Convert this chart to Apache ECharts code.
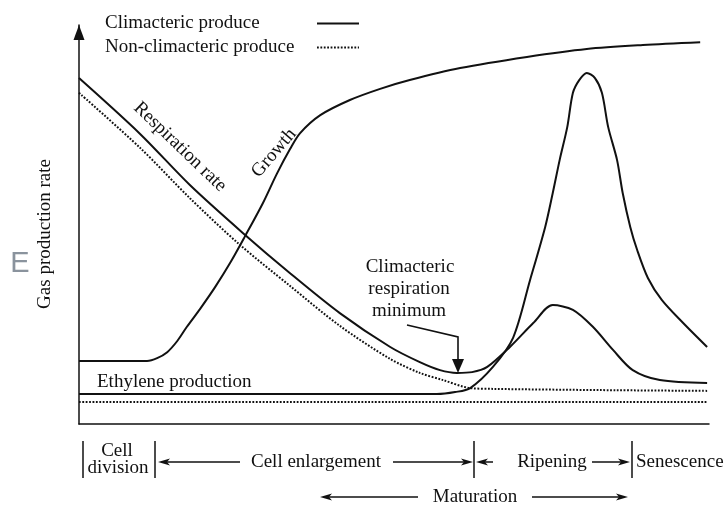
<!DOCTYPE html>
<html>
<head>
<meta charset="utf-8">
<script src="https://cdn.jsdelivr.net/npm/echarts@6/dist/echarts.min.js"></script>
<style>
html, body { margin: 0; background: #fff; }
#chart { width: 728px; height: 508px; }
</style>
</head>
<body>
<div id="chart"></div>
<script>
// time runs 0..100 left to right, rates 0..100 bottom to top (schematic)
var growth = [[0, 15.8], [10.8, 15.8], [12.4, 16.5], [14.0, 18.0], [15.6, 20.8], [17.1, 24.3], [19.2, 28.8],
  [21.6, 34.3], [24.0, 40.4], [26.3, 46.9], [29.2, 55.4], [31.4, 62.7], [33.5, 68.9], [35.1, 72.9],
  [38.3, 77.4], [43.0, 81.2], [47.8, 84.0], [52.5, 86.2], [60.5, 89.2], [71.1, 92.0], [80.6, 94.0],
  [89.5, 95.0], [98.6, 95.7]];
var respClimacteric = [[0, 86.7], [9.7, 72.7], [17.6, 59.9], [26.0, 47.9], [33.5, 37.8], [41.4, 27.8],
  [49.4, 19.3], [54.1, 15.5], [57.3, 13.5], [60.0, 12.8], [62.4, 13.0], [64.8, 14.3], [68.4, 19.3],
  [72.1, 25.3], [75.2, 29.8], [78.4, 28.6], [81.6, 24.3], [84.8, 18.5], [87.9, 13.5], [92.2, 11.0],
  [99.7, 10.3]];
var respNonClimacteric = [[0, 83.0], [9.7, 69.2], [17.6, 56.6], [25.4, 45.1], [33.5, 34.6], [41.4, 24.6],
  [49.4, 16.3], [54.1, 12.8], [57.8, 11.0], [62.1, 9.0], [65.7, 8.8], [82.7, 8.5], [99.7, 8.3]];
var ethyleneClimacteric = [[0, 7.5], [56.8, 7.5], [59.7, 8.0], [62.1, 9.0], [65.7, 14.3], [68.9, 21.6],
  [71.6, 36.1], [74.0, 49.4], [75.2, 57.9], [76.3, 66.2], [77.5, 74.4], [78.4, 83.0], [79.4, 86.2],
  [80.6, 88.0], [81.9, 86.7], [83.0, 83.0], [84.0, 74.4], [85.4, 66.2], [86.3, 57.9], [87.5, 49.4],
  [88.6, 43.6], [90.3, 36.6], [92.5, 31.1], [95.9, 25.3], [99.7, 19.3]];
var ethyleneNonClimacteric = [[0, 5.5], [50, 5.5], [99.7, 5.5]];

var legendNames = ['Climacteric produce', 'Non-climacteric produce'];

var myChart = echarts.init(document.getElementById('chart'));
var ink = '#111';
var font = '19px "Liberation Serif"';

function txt(x, y, s, align, rot, color, f) {
  return {
    type: 'text', x: x, y: y, rotation: rot || 0,
    style: { text: s, font: f || font, fill: color || ink, textAlign: align || 'center', textVerticalAlign: 'middle' }
  };
}
function seg(x1, y1, x2, y2) {
  return { type: 'line', shape: { x1: x1, y1: y1, x2: x2, y2: y2 }, style: { stroke: ink, lineWidth: 1.5 } };
}
// horizontal arrow, head at x2
function harrow(x1, x2, y) {
  var d = x2 > x1 ? 1 : -1;
  return [
    seg(x1, y, x2 - d * 8, y),
    { type: 'polygon', shape: { points: [[x2, y], [x2 - d * 12, y - 3.5], [x2 - d * 9, y], [x2 - d * 12, y + 3.5]] }, style: { fill: ink } }
  ];
}

var graphics = [].concat(
  [
    txt(45, 234, 'Gas production rate', 'center', Math.PI / 2),
    txt(20, 264, 'E', 'center', 0, '#8a939d', '29px "Liberation Sans"'),
    txt(180, 147, 'Respiration rate', 'center', -0.765),
    txt(274, 153, 'Growth', 'center', 0.86),
    txt(410, 267, 'Climacteric'),
    txt(409, 289, 'respiration'),
    txt(409, 311, 'minimum'),
    txt(97, 382, 'Ethylene production', 'left'),
    { type: 'polyline', shape: { points: [[407, 325], [458, 337], [458, 361]] }, style: { stroke: ink, lineWidth: 1.6, fill: null } },
    { type: 'polygon', shape: { points: [[452, 359], [464, 359], [458, 373]] }, style: { fill: ink } },
    seg(83, 441, 83, 478),
    seg(155, 441, 155, 478),
    seg(474, 441, 474, 478),
    seg(632, 441, 632, 478),
    txt(117, 451, 'Cell'),
    txt(118, 468, 'division'),
    txt(316, 462, 'Cell enlargement'),
    txt(552, 462, 'Ripening'),
    txt(636, 462, 'Senescence', 'left'),
    txt(475, 497, 'Maturation')
  ],
  harrow(240, 158, 462),
  harrow(393, 473, 462),
  harrow(493, 476, 462),
  harrow(592, 630, 462),
  harrow(418, 320, 497),
  harrow(532, 628, 497)
);

function curve(name, data, dotted) {
  return {
    name: name,
    type: 'line',
    data: data,
    smooth: 0.3,
    symbol: 'none',
    itemStyle: { color: ink },
    lineStyle: { color: ink, width: 2, type: dotted ? [1.8, 1.6] : 'solid' },
    emphasis: { disabled: true }
  };
}

var option = {
  animation: false,
  backgroundColor: '#fff',
  grid: { left: 79, right: 19, top: 25, bottom: 84 },
  legend: {
    data: legendNames,
    orient: 'vertical',
    left: 100,
    top: 9,
    align: 'right',
    itemWidth: 42,
    itemHeight: 14,
    itemGap: 5,
    selectedMode: false,
    itemStyle: { opacity: 0 },
    formatter: function (name) { return '{t|' + name + '}'; },
    textStyle: {
      fontFamily: 'Liberation Serif', fontSize: 19, color: ink,
      rich: { t: { width: 207, align: 'left', fontFamily: 'Liberation Serif', fontSize: 19, color: ink } }
    }
  },
  xAxis: {
    type: 'value', min: 0, max: 100,
    axisLine: { lineStyle: { color: ink, width: 1.5 } },
    axisTick: { show: false }, axisLabel: { show: false }, splitLine: { show: false }
  },
  yAxis: {
    type: 'value', min: 0, max: 100,
    axisLine: { show: true, symbol: ['none', 'triangle'], symbolSize: [11, 15], symbolOffset: [0, -7.5], lineStyle: { color: ink, width: 1.5 } },
    axisTick: { show: false }, axisLabel: { show: false }, splitLine: { show: false }
  },
  series: [
    curve('Growth', growth, false),
    curve(legendNames[0], respClimacteric, false),
    curve(legendNames[0], ethyleneClimacteric, false),
    curve(legendNames[1], respNonClimacteric, true),
    curve(legendNames[1], ethyleneNonClimacteric, true)
  ],
  graphic: graphics
};
myChart.setOption(option);
</script>
</body>
</html>
